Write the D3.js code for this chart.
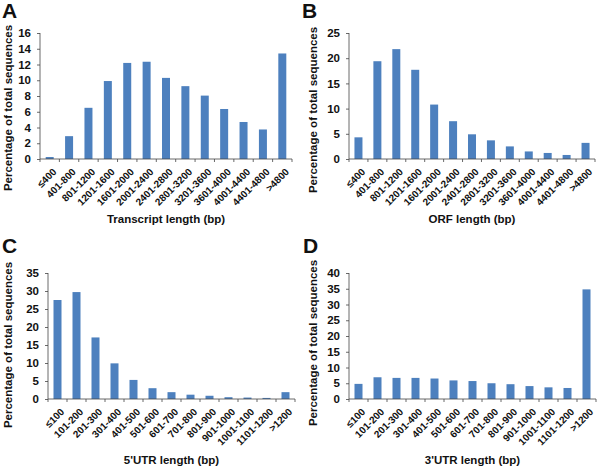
<!DOCTYPE html>
<html><head><meta charset="utf-8">
<script src="https://cdn.jsdelivr.net/npm/d3@7"></script>
<style>
body{margin:0;background:#fff;}
text{font-family:"Liberation Sans",Arial,sans-serif;font-weight:bold;fill:#111;}
</style></head>
<body>
<svg id="c" width="600" height="467"></svg>
<script>
const catsA = ["≤400","401-800","801-1200","1201-1600","1601-2000","2001-2400","2401-2800","2801-3200","3201-3600","3601-4000","4001-4400","4401-4800",">4800"];
const valsA = [0.25,2.9,6.5,9.9,12.2,12.35,10.3,9.25,8.05,6.35,4.7,3.75,13.4];
const ticksA = [0,2,4,6,8,10,12,14,16];

const catsB = catsA;
const valsB = [4.3,19.4,21.8,17.7,10.8,7.5,4.9,3.7,2.5,1.5,1.2,0.8,3.2];
const ticksB = [0,5,10,15,20,25];

const catsC = ["≤100","101-200","201-300","301-400","401-500","501-600","601-700","701-800","801-900","901-1000","1001-1100","1101-1200",">1200"];
const valsC = [27.5,29.7,17.1,9.9,5.3,3.0,1.9,1.2,0.9,0.5,0.4,0.3,1.9];
const ticksC = [0,5,10,15,20,25,30,35];

const catsD = catsC;
const valsD = [4.8,6.9,6.7,6.7,6.5,5.9,5.7,5.0,4.7,4.1,3.7,3.5,34.8];
const ticksD = [0,5,10,15,20,25,30,35,40];

const panels = [
  {letter:"A", cats:catsA, vals:valsA, ticks:ticksA, xt:"Transcript length (bp)", x0:40, x1:292, y0:159, y1:33, lx:2, ly:18, tx:8, tyc:108, xtY:223},
  {letter:"B", cats:catsB, vals:valsB, ticks:ticksB, xt:"ORF length (bp)", x0:349, x1:595, y0:159, y1:33, lx:302, ly:18, tx:313, tyc:110, xtY:223},
  {letter:"C", cats:catsC, vals:valsC, ticks:ticksC, xt:"5'UTR length (bp)", x0:48, x1:295, y0:399, y1:273, lx:2, ly:253, tx:8, tyc:345, xtY:464},
  {letter:"D", cats:catsD, vals:valsD, ticks:ticksD, xt:"3'UTR length (bp)", x0:349, x1:596, y0:399, y1:273, lx:303, ly:253, tx:313, tyc:343, xtY:464}
];

const svg = d3.select("#c");
panels.forEach(p=>{
  const g = svg.append("g");
  const xb = d3.scaleBand().domain(p.cats).range([p.x0,p.x1]);
  const y = d3.scaleLinear().domain([0,d3.max(p.ticks)]).range([p.y0,p.y1]);

  g.selectAll("rect").data(p.vals).join("rect")
    .attr("x",(d,i)=>xb(p.cats[i])+xb.bandwidth()/2-4)
    .attr("width",8)
    .attr("y",d=>y(d)).attr("height",d=>p.y0-y(d))
    .attr("fill","#4D80BE");

  // y axis
  const ya = g.append("g").attr("transform",`translate(${p.x0},0)`)
    .call(d3.axisLeft(y).tickValues(p.ticks).tickSize(3).tickPadding(6));
  ya.selectAll("path,line").attr("stroke","#444").attr("stroke-width",0.8);
  ya.selectAll("text").style("font-size","11.5px").style("font-weight","bold").attr("fill","#111");
  ya.select(".domain").attr("d",`M-0,${p.y0}V${p.y1}`);

  // x axis
  const xa = g.append("g").attr("transform",`translate(0,${p.y0})`)
    .call(d3.axisBottom(xb).tickSize(0).tickFormat(""));
  xa.selectAll("path").attr("stroke","#444").attr("stroke-width",0.8);
  xa.select(".domain").attr("d",`M${p.x0},0H${p.x1}`);
  // ticks between categories
  const bounds = p.cats.map(c=>xb(c)).concat([p.x1]);
  g.selectAll("line.xt").data(bounds).join("line").attr("class","xt")
    .attr("x1",d=>d).attr("x2",d=>d).attr("y1",p.y0).attr("y2",p.y0+3)
    .attr("stroke","#444").attr("stroke-width",0.8);
  g.selectAll("text.xl").data(p.cats).join("text").attr("class","xl")
    .attr("transform",d=>`translate(${xb(d)+xb.bandwidth()/2+5},${p.y0+11}) rotate(-45)`)
    .attr("text-anchor","end").attr("dy","0.35em")
    .style("font-size","10px").text(d=>d);

  // titles
  g.append("text").attr("x",(p.x0+p.x1)/2).attr("y",p.xtY).attr("text-anchor","middle")
    .style("font-size","11.5px").text(p.xt);
  g.append("text").attr("transform",`translate(${p.tx+4},${p.tyc}) rotate(-90)`)
    .attr("text-anchor","middle").style("font-size","11.5px").text("Percentage of total sequences");
  g.append("text").attr("x",p.lx).attr("y",p.ly).style("font-size","21px").text(p.letter);
});
</script>
</body></html>
